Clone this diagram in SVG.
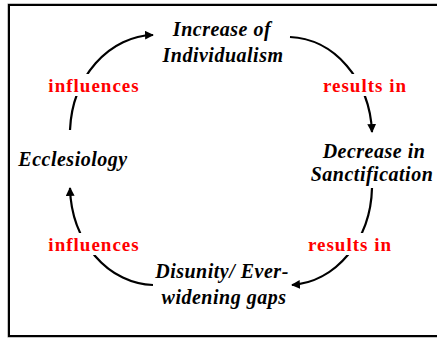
<svg xmlns="http://www.w3.org/2000/svg" width="437" height="340" viewBox="0 0 437 340">
<style>
.node{font-family:"Liberation Serif","Times New Roman",serif;font-weight:700;font-style:italic;font-size:20px;letter-spacing:0.5px;fill:#000;text-anchor:middle}
.lbl{font-family:"Liberation Serif","Times New Roman",serif;font-weight:700;font-size:19px;letter-spacing:1px;fill:#ff0000;text-anchor:middle}
.arc{fill:none;stroke:#000;stroke-width:2.2;marker-end:url(#ah)}
.bg{fill:#fff}
</style>
<defs>
<marker id="ah" viewBox="0 0 10 10" refX="9" refY="5" markerWidth="4" markerHeight="4" orient="auto" markerUnits="strokeWidth">
<path d="M0,0 L10,5 L0,10 Z" fill="#000"/>
</marker>
</defs>
<rect x="0" y="0" width="437" height="340" fill="#fff"/>
<rect x="8" y="4" width="440" height="333" fill="none" stroke="#888" stroke-width="1"/>
<rect x="9" y="5" width="440" height="331" fill="none" stroke="#000" stroke-width="2"/>
<g id="connectors">
<path class="arc" d="M70,130 A85 100 0 0 1 153 35"/>
<path class="arc" d="M290,37 A85 100 0 0 1 372 132"/>
<path class="arc" d="M372,188 A85 100 0 0 1 292 285"/>
<path class="arc" d="M153,285 A85 100 0 0 1 70 188"/>
</g>
<g id="label-influences-top">
<rect class="bg" x="46" y="74" width="96" height="22"/>
<text class="lbl" x="94" y="92">influences</text>
</g>
<g id="label-results-top">
<rect class="bg" x="320" y="74" width="90" height="22"/>
<text class="lbl" x="365" y="92">results in</text>
</g>
<g id="label-influences-bottom">
<rect class="bg" x="46" y="233" width="96" height="22"/>
<text class="lbl" x="94" y="251">influences</text>
</g>
<g id="label-results-bottom">
<rect class="bg" x="305" y="233" width="90" height="22"/>
<text class="lbl" x="350" y="251">results in</text>
</g>
<g id="node-individualism">
<text class="node" x="222" y="36">Increase of</text>
<text class="node" x="223" y="62">Individualism</text>
</g>
<g id="node-sanctification">
<text class="node" x="374" y="158">Decrease in</text>
<text class="node" x="372" y="181">Sanctification</text>
</g>
<g id="node-ecclesiology">
<text class="node" x="73" y="166">Ecclesiology</text>
</g>
<g id="node-disunity">
<text class="node" x="222" y="278">Disunity/ Ever-</text>
<text class="node" x="224" y="304">widening gaps</text>
</g>
</svg>
